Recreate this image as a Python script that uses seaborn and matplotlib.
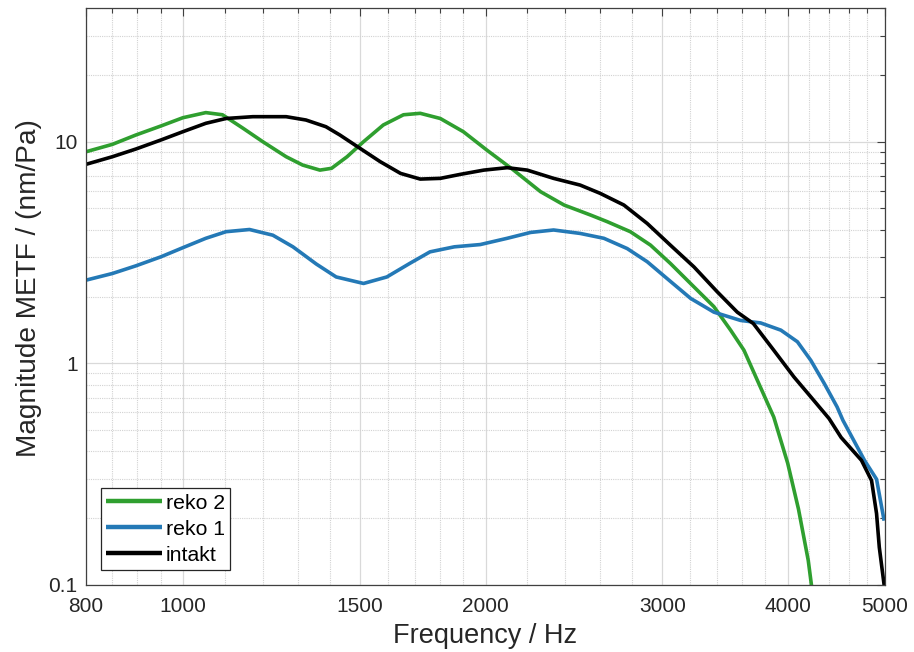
import numpy as np
import pandas as pd
import matplotlib
matplotlib.use("Agg")
import matplotlib.pyplot as plt
import matplotlib.ticker as mticker
import seaborn as sns

# ---------------- data ----------------
reko2_f = [800, 850, 897, 950, 999, 1053, 1094, 1146, 1200, 1266, 1315, 1368, 1405,
           1456, 1512, 1582, 1657, 1722, 1803, 1901, 2006, 2133, 2269, 2395, 2545,
           2644, 2788, 2920, 3056, 3226, 3377, 3509, 3618, 3730, 3874, 4000, 4100,
           4193, 4230]
reko2_m = [8.99, 9.71, 10.7, 11.75, 12.8, 13.5, 13.2, 11.5, 9.98, 8.54, 7.83, 7.43, 7.57,
           8.54, 9.98, 11.87, 13.2, 13.4, 12.7, 11.07, 9.15, 7.43, 5.94, 5.17, 4.66,
           4.35, 3.92, 3.41, 2.82, 2.21, 1.80, 1.41, 1.145, 0.84, 0.572, 0.354, 0.22,
           0.129, 0.095]

reko1_f = [800, 850, 897, 950, 999, 1053, 1103, 1164, 1228, 1286, 1357, 1420, 1512,
           1595, 1681, 1761, 1862, 1976, 2102, 2218, 2338, 2485, 2624, 2768, 2898,
           3033, 3202, 3377, 3590, 3759, 3938, 4090, 4218, 4350, 4480, 4540, 4770,
           4904, 4990]
reko1_m = [2.37, 2.54, 2.75, 3.02, 3.32, 3.66, 3.92, 4.01, 3.78, 3.35, 2.80, 2.45, 2.29,
           2.45, 2.82, 3.18, 3.35, 3.43, 3.66, 3.89, 3.99, 3.85, 3.66, 3.29, 2.87,
           2.41, 1.96, 1.70, 1.56, 1.52, 1.41, 1.25, 1.03, 0.81, 0.635, 0.553, 0.365,
           0.30, 0.195]

intakt_f = [800, 850, 897, 950, 999, 1053, 1103, 1173, 1266, 1325, 1387, 1432, 1500,
            1571, 1646, 1722, 1803, 1888, 1992, 2102, 2201, 2338, 2485, 2601, 2747,
            2898, 3056, 3226, 3403, 3563, 3697, 3874, 4058, 4218, 4398, 4521, 4737,
            4848, 4904, 4935, 4990, 5000]
intakt_m = [7.89, 8.54, 9.25, 10.16, 11.07, 12.08, 12.7, 12.94, 12.94, 12.5, 11.66, 10.7,
            9.31, 8.11, 7.18, 6.77, 6.82, 7.11, 7.43, 7.62, 7.43, 6.82, 6.36, 5.84, 5.17,
            4.27, 3.41, 2.72, 2.10, 1.70, 1.51, 1.145, 0.867, 0.705, 0.563, 0.463, 0.365,
            0.296, 0.21, 0.148, 0.1, 0.09]

series_names = ["reko 2", "reko 1", "intakt"]
series_colors = ["#2f9f2f", "#2479b6", "#000000"]

x_major = [800, 1000, 1500, 2000, 3000, 4000, 5000]
x_minor = [850, 900, 950, 1100, 1200, 1300, 1400, 1600, 1700, 1800, 1900,
           2200, 2400, 2600, 2800, 3200, 3400, 3600, 3800, 4200, 4400, 4600, 4800]
y_major = [0.1, 1, 10]
y_major_labels = ["0.1", "1", "10"]

# ---------------- figure ----------------
sns.set_theme(style="white")
plt.rcParams["font.family"] = ["Liberation Sans", "DejaVu Sans"]
text_color = "#262626"

fig = plt.figure(figsize=(9.14, 6.52), dpi=100)
ax = fig.add_axes([86 / 914, 1 - 585 / 652, 799 / 914, 577 / 652])

df = pd.concat([
    pd.DataFrame({"Frequency": reko2_f, "Magnitude": reko2_m, "Serie": "reko 2"}),
    pd.DataFrame({"Frequency": reko1_f, "Magnitude": reko1_m, "Serie": "reko 1"}),
    pd.DataFrame({"Frequency": intakt_f, "Magnitude": intakt_m, "Serie": "intakt"}),
], ignore_index=True)

sns.lineplot(data=df, x="Frequency", y="Magnitude", hue="Serie",
             hue_order=series_names, palette=series_colors,
             estimator=None, sort=False, linewidth=2.6, ax=ax, legend=True)
for ln in ax.get_lines():
    ln.set_solid_joinstyle("round")
    ln.set_solid_capstyle("butt")

ax.set_xscale("log")
ax.set_yscale("log")
ax.set_xlim(800, 5000)
ax.set_ylim(0.1, 40)

ax.xaxis.set_major_locator(mticker.FixedLocator(x_major))
ax.xaxis.set_major_formatter(mticker.FixedFormatter([str(v) for v in x_major]))
ax.xaxis.set_minor_locator(mticker.FixedLocator(x_minor))
ax.xaxis.set_minor_formatter(mticker.NullFormatter())
ax.yaxis.set_major_locator(mticker.FixedLocator(y_major))
ax.yaxis.set_major_formatter(mticker.FixedFormatter(y_major_labels))
ax.yaxis.set_minor_locator(mticker.LogLocator(base=10, subs=np.arange(2, 10)))
ax.yaxis.set_minor_formatter(mticker.NullFormatter())

ax.grid(True, which="major", color="#d9d9d9", linewidth=0.9, linestyle="-")
ax.grid(True, which="minor", color="#d2d2d2", linewidth=0.8, linestyle=(0, (1, 1)))
ax.set_axisbelow(True)

ax.tick_params(which="both", direction="in", top=True, right=True,
               colors="#404040", labelcolor=text_color, labelsize=15)
ax.tick_params(axis="x", which="both", pad=8.5)
ax.tick_params(axis="y", which="both", pad=6)
ax.tick_params(which="major", length=6, width=0.8)
ax.tick_params(which="minor", length=3.5, width=0.8)

for sp in ax.spines.values():
    sp.set_color("#404040")
    sp.set_linewidth(0.9)
    sp.set_visible(True)

ax.set_xlabel("Frequency / Hz", fontsize=19.5, color=text_color, labelpad=5)
ax.set_ylabel("Magnitude METF / (nm/Pa)", fontsize=20.2, color=text_color)
ax.yaxis.set_label_coords(-0.0555, 0.514)

leg = ax.legend(loc="lower left", bbox_to_anchor=(0.0188, 0.026), borderaxespad=0,
                fontsize=15.3, frameon=True, fancybox=False, framealpha=1,
                edgecolor="#262626", handlelength=2.6, handletextpad=0.2,
                labelspacing=0.33, borderpad=0.25, title=None)
leg.get_frame().set_linewidth(0.9)
for line in leg.get_lines():
    line.set_linewidth(3.2)
for t in leg.get_texts():
    t.set_color("#000000")

fig.savefig("out.png", dpi=100)
